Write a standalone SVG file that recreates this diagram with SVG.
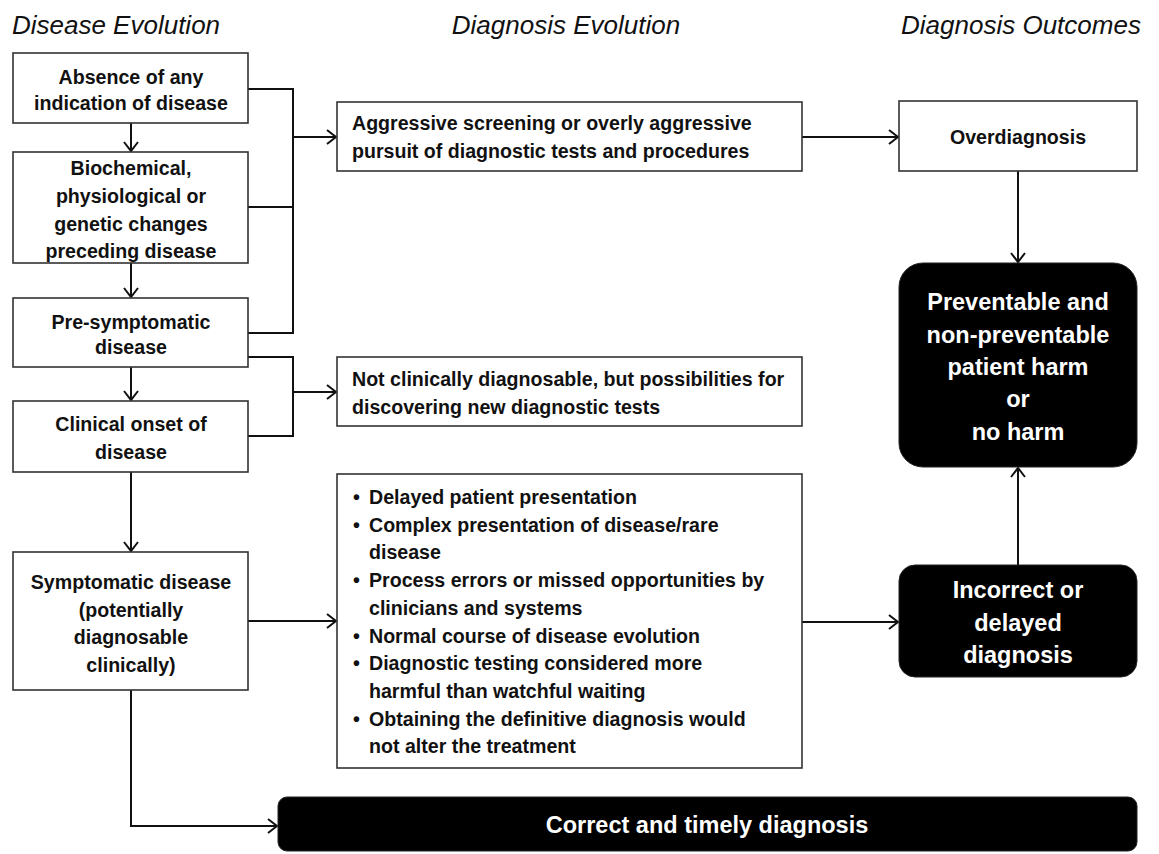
<svg xmlns="http://www.w3.org/2000/svg" width="1159" height="854" viewBox="0 0 1159 854">
<style>
.title{font-family:"Liberation Sans",Arial,sans-serif;font-style:italic;font-size:26px;fill:#111}
.box{fill:#fff;stroke:#333;stroke-width:1.6}
.dark{fill:#000;stroke:#222;stroke-width:1}
.t{font-family:"Liberation Sans",Arial,sans-serif;font-weight:bold;font-size:19.6px;fill:#111}
.c{text-anchor:middle}
.w{font-family:"Liberation Sans",Arial,sans-serif;font-weight:bold;font-size:23.5px;fill:#fff;text-anchor:middle}
.conn{fill:none;stroke:#111;stroke-width:2}
</style>
<defs>
<marker id="ah" markerUnits="userSpaceOnUse" markerWidth="12" markerHeight="16" refX="10" refY="8" orient="auto">
<path d="M1,1 L10,8 L1,15" fill="none" stroke="#111" stroke-width="2"/>
</marker>
</defs>
<rect width="1159" height="854" fill="#fff"/>
<g id="titles">
<text class="title" x="116" y="34" text-anchor="middle">Disease Evolution</text>
<text class="title" x="566" y="34" text-anchor="middle">Diagnosis Evolution</text>
<text class="title" x="1021" y="34" text-anchor="middle">Diagnosis Outcomes</text>
</g>
<g id="connectors">
<path class="conn" d="M131,123 V151" marker-end="url(#ah)"/>
<path class="conn" d="M131,263 V297" marker-end="url(#ah)"/>
<path class="conn" d="M131,367 V400" marker-end="url(#ah)"/>
<path class="conn" d="M131,472 V551" marker-end="url(#ah)"/>
<path class="conn" d="M248,89 H293 V333 H248 M248,207 H293"/>
<path class="conn" d="M293,137 H336" marker-end="url(#ah)"/>
<path class="conn" d="M248,357 H293 V436 H248"/>
<path class="conn" d="M293,392 H336" marker-end="url(#ah)"/>
<path class="conn" d="M802,137 H898" marker-end="url(#ah)"/>
<path class="conn" d="M1018,171 V262" marker-end="url(#ah)"/>
<path class="conn" d="M248,621 H336" marker-end="url(#ah)"/>
<path class="conn" d="M802,622 H898" marker-end="url(#ah)"/>
<path class="conn" d="M1018,565 V468" marker-end="url(#ah)"/>
<path class="conn" d="M131,690 V826 H277" marker-end="url(#ah)"/>
</g>
<g id="absence">
<rect class="box" x="13" y="53" width="235" height="70"/>
<text class="t c" x="131" y="84">Absence of any</text>
<text class="t c" x="131" y="110">indication of disease</text>
</g>
<g id="biochemical">
<rect class="box" x="13" y="152" width="235" height="111"/>
<text class="t c" x="131" y="175">Biochemical,</text>
<text class="t c" x="131" y="203">physiological or</text>
<text class="t c" x="131" y="231">genetic changes</text>
<text class="t c" x="131" y="258">preceding disease</text>
</g>
<g id="presymptomatic">
<rect class="box" x="13" y="298" width="235" height="69"/>
<text class="t c" x="131" y="329">Pre-symptomatic</text>
<text class="t c" x="131" y="354">disease</text>
</g>
<g id="clinical-onset">
<rect class="box" x="13" y="401" width="235" height="71"/>
<text class="t c" x="131" y="431">Clinical onset of</text>
<text class="t c" x="131" y="459">disease</text>
</g>
<g id="symptomatic">
<rect class="box" x="13" y="552" width="235" height="138"/>
<text class="t c" x="131" y="589">Symptomatic disease</text>
<text class="t c" x="131" y="617">(potentially</text>
<text class="t c" x="131" y="644">diagnosable</text>
<text class="t c" x="131" y="672">clinically)</text>
</g>
<g id="aggressive">
<rect class="box" x="337" y="102" width="465" height="69"/>
<text class="t" x="352" y="130">Aggressive screening or overly aggressive</text>
<text class="t" x="352" y="158">pursuit of diagnostic tests and procedures</text>
</g>
<g id="not-diagnosable">
<rect class="box" x="337" y="357" width="465" height="69"/>
<text class="t" x="352" y="386">Not clinically diagnosable, but possibilities for</text>
<text class="t" x="352" y="414">discovering new diagnostic tests</text>
</g>
<g id="reasons">
<rect class="box" x="337" y="474" width="465" height="294"/>
<g class="t">
<text x="353" y="504">•</text><text x="369" y="504">Delayed patient presentation</text>
<text x="353" y="532">•</text><text x="369" y="532">Complex presentation of disease/rare</text>
<text x="369" y="559">disease</text>
<text x="353" y="587">•</text><text x="369" y="587">Process errors or missed opportunities by</text>
<text x="369" y="615">clinicians and systems</text>
<text x="353" y="643">•</text><text x="369" y="643">Normal course of disease evolution</text>
<text x="353" y="670">•</text><text x="369" y="670">Diagnostic testing considered more</text>
<text x="369" y="698">harmful than watchful waiting</text>
<text x="353" y="726">•</text><text x="369" y="726">Obtaining the definitive diagnosis would</text>
<text x="369" y="753">not alter the treatment</text>
</g>
</g>
<g id="overdiagnosis">
<rect class="box" x="899" y="101" width="238" height="70"/>
<text class="t c" x="1018" y="144">Overdiagnosis</text>
</g>
<g id="harm">
<rect class="dark" x="899" y="263" width="238" height="204" rx="24" ry="24"/>
<text class="w" x="1018" y="310">Preventable and</text>
<text class="w" x="1018" y="343">non-preventable</text>
<text class="w" x="1018" y="375">patient harm</text>
<text class="w" x="1018" y="407">or</text>
<text class="w" x="1018" y="440">no harm</text>
</g>
<g id="incorrect">
<rect class="dark" x="899" y="565" width="238" height="112" rx="16" ry="16"/>
<text class="w" x="1018" y="598">Incorrect or</text>
<text class="w" x="1018" y="631">delayed</text>
<text class="w" x="1018" y="663">diagnosis</text>
</g>
<g id="correct">
<rect class="dark" x="278" y="797" width="859" height="54" rx="9" ry="9"/>
<text class="w" x="707" y="833">Correct and timely diagnosis</text>
</g>
</svg>
